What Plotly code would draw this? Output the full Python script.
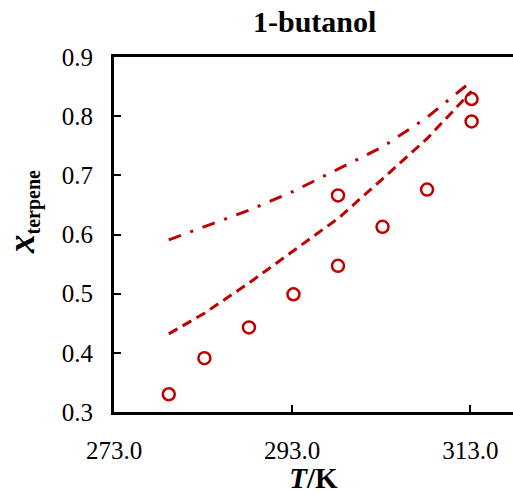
import plotly.graph_objects as go

# Experimental data (T/K, x_terpene)
T_exp = [279.15, 283.15, 288.15, 293.15, 298.15, 298.15, 303.15, 308.15, 313.15, 313.15]
x_exp = [0.330, 0.391, 0.443, 0.499, 0.547, 0.666, 0.613, 0.676, 0.791, 0.829]

# Model curves
T_model = [279.15, 283.15, 288.15, 293.15, 298.15, 303.15, 308.15, 313.15]
x_dashed = [0.432, 0.467, 0.518, 0.573, 0.627, 0.694, 0.762, 0.842]
x_dashdot = [0.591, 0.613, 0.641, 0.673, 0.711, 0.748, 0.798, 0.859]

red = "#C00000"
serif = "Times New Roman, Liberation Serif, serif"

fig = go.Figure()
fig.add_trace(go.Scatter(x=T_model, y=x_dashed, mode="lines",
                         line=dict(color=red, width=3, dash="10px,6px"),
                         showlegend=False))
fig.add_trace(go.Scatter(x=T_model, y=x_dashdot, mode="lines",
                         line=dict(color=red, width=3, dash="13px,10px,3px,10px"),
                         showlegend=False))
fig.add_trace(go.Scatter(x=T_exp, y=x_exp, mode="markers",
                         marker=dict(symbol="circle-open", size=12, color=red,
                                     line=dict(width=2.5, color=red)),
                         showlegend=False))

fig.update_layout(
    width=513, height=494,
    margin=dict(l=114, r=0, t=57, b=82),
    paper_bgcolor="white", plot_bgcolor="white",
    font=dict(family=serif, color="black"),
    xaxis=dict(range=[273, 317.8], tick0=273, dtick=20, tickformat=".1f",
               ticks="inside", ticklen=7, tickwidth=1.5, tickcolor="black",
               showline=True, linecolor="black", linewidth=3, mirror=True,
               showgrid=False, zeroline=False,
               tickfont=dict(family=serif, size=25, color="black"),
               ticklabelstandoff=14,
               title=dict(text="<b><i>T</i>/K</b>", standoff=2,
                          font=dict(family=serif, size=29, color="black"))),
    yaxis=dict(range=[0.3, 0.9], tick0=0.3, dtick=0.1, tickformat=".1f",
               ticks="inside", ticklen=7, tickwidth=1.5, tickcolor="black",
               showline=True, linecolor="black", linewidth=3, mirror=False,
               showgrid=False, zeroline=False,
               tickfont=dict(family=serif, size=25, color="black"),
               ticklabelstandoff=13),
    annotations=[
        dict(text="<b>1-butanol</b>", xref="paper", yref="paper",
             x=(314 - 114) / 399, y=1 + (57 - 22) / 355,
             xanchor="center", yanchor="middle", showarrow=False,
             font=dict(family=serif, size=30, color="black")),
        dict(text="<b><i><span style='font-size:37px'>x</span></i></b>"
                  "<sub><b><span style='font-size:20px'>terpene</span></b></sub>",
             xref="paper", yref="paper",
             x=-(114 - 23) / 399, y=(412 - 212) / 355,
             xanchor="center", yanchor="middle", textangle=-90, showarrow=False,
             font=dict(family=serif, size=27, color="black")),
    ],
)

fig.write_html("out.html")
